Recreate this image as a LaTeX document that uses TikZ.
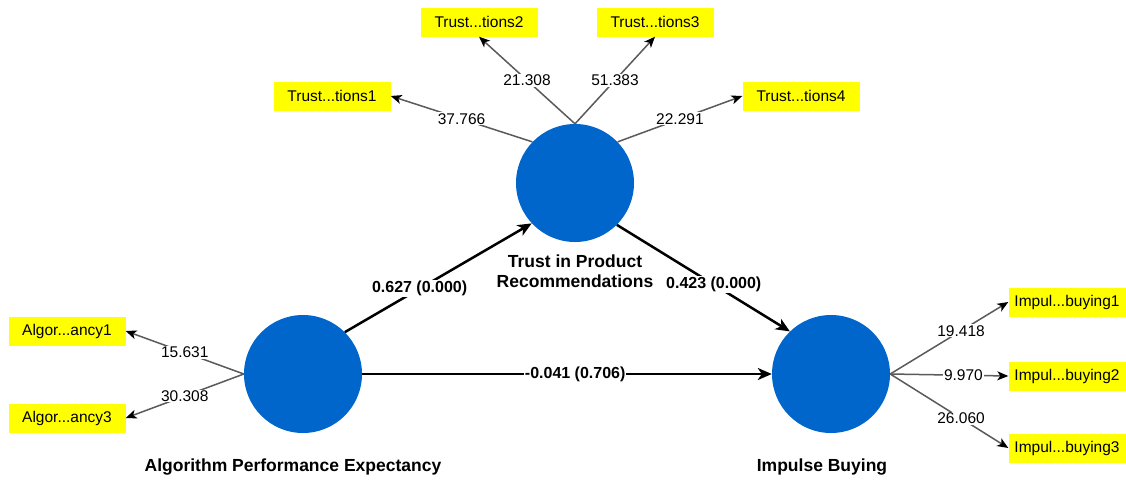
\documentclass[tikz,border=0pt]{standalone}
\usepackage{fontspec}
\setmainfont{Liberation Sans}
\usetikzlibrary{arrows.meta}
\definecolor{lvblue}{RGB}{0,102,204}
\definecolor{indyel}{RGB}{255,255,0}
\definecolor{loadgray}{RGB}{90,90,90}
\begin{document}
\begin{tikzpicture}[x=1pt,y=-1pt,
  lv/.style={circle,fill=lvblue,minimum size=118pt,inner sep=0pt},
  ind/.style={fill=indyel,minimum width=117pt,minimum height=29pt,inner sep=0pt,font=\fontsize{15.5}{17}\selectfont},
  load/.style={draw=loadgray,line width=1.5pt,-{Stealth[black,length=11pt,width=9pt,inset=3pt]}},
  spath/.style={draw=black,line width=2.5pt,-{Stealth[length=14pt,width=12pt,inset=4pt]}},
  lval/.style={fill=white,inner sep=1pt,font=\fontsize{15.5}{17}\selectfont},
  pval/.style={fill=white,inner sep=1pt,font=\bfseries\fontsize{16}{18}\selectfont},
  lvname/.style={font=\bfseries\fontsize{17.5}{20}\selectfont,align=center}
]
\fill[white] (0,0) rectangle (1126,480);
\useasboundingbox (0,0) rectangle (1126,480);

\node[lv] (T) at (575,183) {};
\node[lv] (A) at (303,374) {};
\node[lv] (I) at (831,374) {};

\node[lvname] (Tl) at (575,271) {Trust in Product\\Recommendations};
\node[lvname] (Al) at (293,467) {Algorithm Performance Expectancy};
\node[lvname] (Il) at (822,467) {Impulse Buying};

\node[ind] (t1) at (332,96) {Trust...tions1};
\node[ind] (t2) at (479,22) {Trust...tions2};
\node[ind] (t3) at (655,22) {Trust...tions3};
\node[ind] (t4) at (801,96) {Trust...tions4};
\node[ind] (a1) at (67,331) {Algor...ancy1};
\node[ind] (a3) at (67,418) {Algor...ancy3};
\node[ind] (i1) at (1067,302) {Impul...buying1};
\node[ind] (i2) at (1067,376) {Impul...buying2};
\node[ind] (i3) at (1067,448) {Impul...buying3};

\draw[load] (T.136) -- node[lval,pos=0.5]{37.766} (t1.east);
\draw[load] (T.north) -- node[lval,pos=0.5]{21.308} (t2.south);
\draw[load] (T.north) -- node[lval,pos=0.5]{51.383} (t3.south);
\draw[load] (T.44) -- node[lval,pos=0.5]{22.291} (t4.west);
\draw[load] (A.west) -- node[lval,pos=0.5]{15.631} (a1.east);
\draw[load] (A.west) -- node[lval,pos=0.5]{30.308} (a3.east);
\draw[load] (I.east) -- node[lval,pos=0.6]{19.418} (i1.west);
\draw[load] (I.east) -- node[lval,pos=0.62]{9.970} (i2.west);
\draw[load] (I.east) -- node[lval,pos=0.6]{26.060} (i3.west);

\draw[spath] (A.45) -- node[pval,pos=0.4]{0.627 (0.000)} (T.223);
\draw[spath] (T.-45) -- node[pval,pos=0.56]{0.423 (0.000)} (I.134);
\draw[spath] (A.east) -- node[pval,pos=0.52]{-0.041 (0.706)} (I.west);
\end{tikzpicture}
\end{document}
